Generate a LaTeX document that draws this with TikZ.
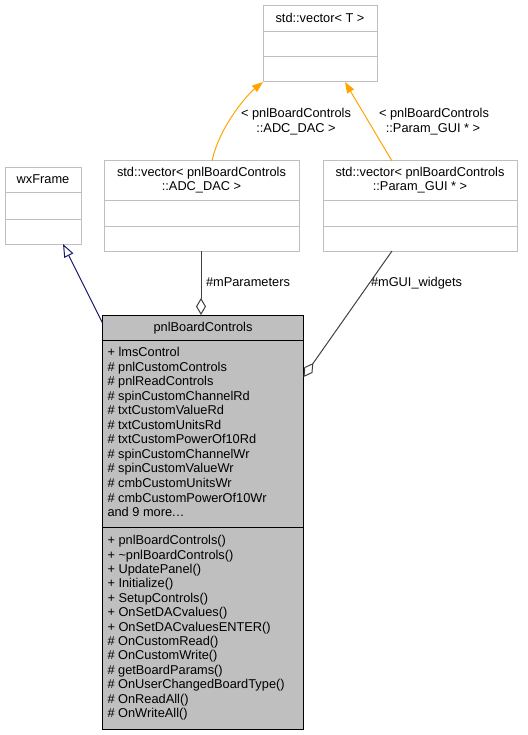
\documentclass[tikz,border=0pt]{standalone}
\usepackage{fontspec}
\setmainfont{Liberation Sans}
\usetikzlibrary{arrows.meta,calc}
\definecolor{boxgray}{HTML}{BFBFBF}
\definecolor{edgeorange}{HTML}{FFA500}
\definecolor{edgenavy}{HTML}{191970}
\definecolor{edgedark}{HTML}{404040}
\begin{document}
\begin{tikzpicture}[x=1pt,y=-1pt,
  every node/.style={font=\fontsize{12.8}{14.4}\selectfont, inner sep=0pt, outer sep=0pt},
  classbox/.style={draw=boxgray, line width=1pt, fill=white, anchor=north west},
  mainbox/.style={draw=black, line width=1pt, fill=boxgray, anchor=north west},
  divider/.style={draw=boxgray, line width=1pt},
  maindivider/.style={draw=black, line width=1pt},
  title/.style={anchor=base},
  member/.style={anchor=base west},
  tmpl/.style={draw=edgeorange, line width=1pt, -{Triangle[length=11pt,width=8pt,fill=edgeorange]}},
  inherit/.style={draw=edgenavy, line width=1pt, -{Triangle[open,length=13pt,width=10pt,fill=white]}},
  assoc/.style={draw=edgedark, line width=1pt, -{Diamond[open,length=17pt,width=10pt,fill=white]}},
  elabel/.style={anchor=base}]

\useasboundingbox (0,0) rectangle (527,735);

% std::vector< T >
\node[classbox, minimum width=114pt, minimum height=76pt] (vecT) at (263,6) {};
\draw[divider] (263,32) -- (377,32);
\draw[divider] (263,57) -- (377,57);
\node[title] (vecTt) at (320,22.6) {std::vector< T >};

% wxFrame
\node[classbox, minimum width=76pt, minimum height=76pt] (wx) at (5,168) {};
\draw[divider] (5,193) -- (81,193);
\draw[divider] (5,219) -- (81,219);
\node[title] (wxt) at (43,183.6) {wxFrame};

% std::vector< pnlBoardControls::ADC_DAC >
\node[classbox, minimum width=195pt, minimum height=90pt] (adc) at (104,161) {};
\draw[divider] (104,201) -- (299,201);
\draw[divider] (104,226) -- (299,226);
\node[title] (adct1) at (201.5,176.8) {std::vector< pnlBoardControls};
\node[title] (adct2) at (201.5,191) {::ADC\_DAC >};

% std::vector< pnlBoardControls::Param_GUI * >
\node[classbox, minimum width=194pt, minimum height=90pt] (gui) at (323,161) {};
\draw[divider] (323,201) -- (517,201);
\draw[divider] (323,226) -- (517,226);
\node[title] (guit1) at (420,176.8) {std::vector< pnlBoardControls};
\node[title] (guit2) at (420,191) {::Param\_GUI * >};

% pnlBoardControls
\node[mainbox, minimum width=201pt, minimum height=414pt] (main) at (102.5,315) {};
\draw[maindivider] (102.5,340) -- (303.5,340);
\draw[maindivider] (102.5,527) -- (303.5,527);
\node[title] (maint) at (203,331.6) {pnlBoardControls};

\foreach \t [count=\i from 0] in {{+ lmsControl}, {\# pnlCustomControls}, {\# pnlReadControls},
  {\# spinCustomChannelRd}, {\# txtCustomValueRd}, {\# txtCustomUnitsRd}, {\# txtCustomPowerOf10Rd},
  {\# spinCustomChannelWr}, {\# spinCustomValueWr}, {\# cmbCustomUnitsWr}, {\# cmbCustomPowerOf10Wr},
  {and 9 more.\kern0.5pt.\kern0.5pt.}}
  \node[member] (attr\i) at (107.5,356.6+14.545*\i) {\t};

\foreach \t [count=\i from 0] in {{+ pnlBoardControls()}, {+ \textasciitilde pnlBoardControls()},
  {+ UpdatePanel()}, {+ Initialize()}, {+ SetupControls()}, {+ OnSetDACvalues()},
  {+ OnSetDACvaluesENTER()}, {\# OnCustomRead()}, {\# OnCustomWrite()}, {\# getBoardParams()},
  {\# OnUserChangedBoardType()}, {\# OnReadAll()}, {\# OnWriteAll()}}
  \node[member] (meth\i) at (107.5,544.6+14.42*\i) {\t};

% template instantiation edges
\draw[tmpl] ($(adc.north)+(10.5,0)$) .. controls ($(adc.north)+(18,-35)$) and ($(vecT.south west)+(-15,12)$) .. (vecT.south west);
\draw[tmpl] ($(gui.north)+(-28,0)$) -- ($(vecT.south)+(25,0)$);
\node[elabel] (l1a) at (296,117.6) {< pnlBoardControls};
\node[elabel] (l1b) at (296,132.6) {::ADC\_DAC >};
\node[elabel] (l2a) at (434,117.6) {< pnlBoardControls};
\node[elabel] (l2b) at (433,132.6) {::Param\_GUI * >};

% inheritance
\draw[inherit] ($(main.north west)+(0,8)$) -- ($(wx.south)+(20,0)$);

% associations
\draw[assoc] ($(adc.south)+(-0.5,0)$) -- ($(main.north)+(-2,0)$);
\node[member] (l3) at (206,286.6) {\#mParameters};
\draw[assoc] ($(gui.south)+(-28,0)$) -- ($(main.north east)+(0,62)$);
\node[member] (l4) at (371,286.6) {\#mGUI\_widgets};

\end{tikzpicture}
\end{document}
